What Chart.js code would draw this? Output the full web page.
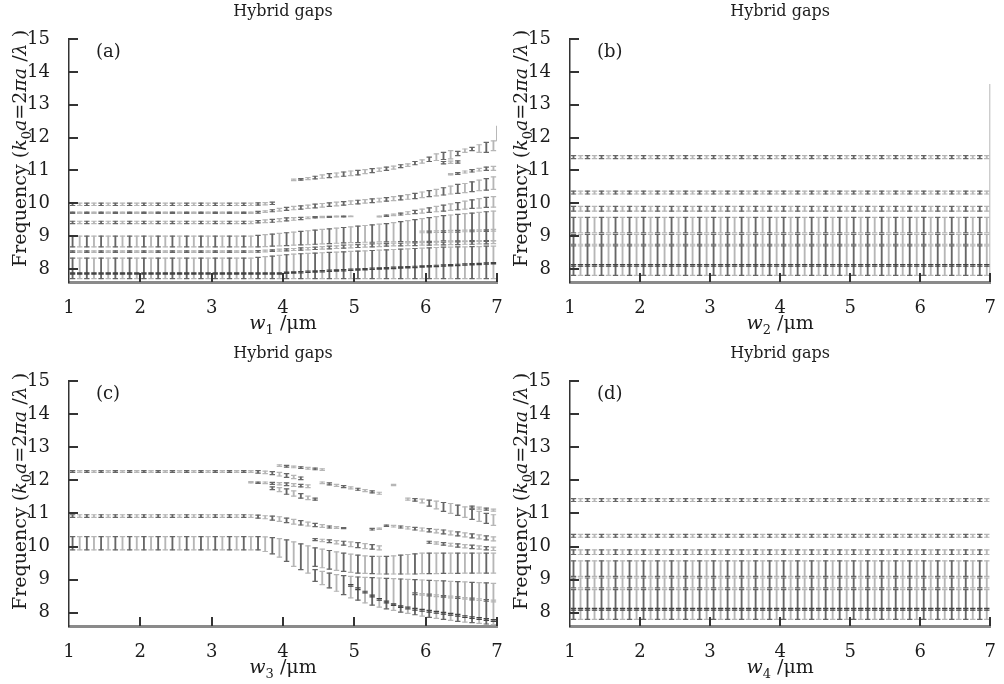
<!DOCTYPE html>
<html>
<head>
<meta charset="utf-8">
<script src="https://cdn.jsdelivr.net/npm/chart.js@4.4.1/dist/chart.umd.min.js"></script>
<style>
  body { margin: 0; background: #fff; }
  #wrap { position: relative; width: 1004px; height: 684px; overflow: hidden; }
  .panel { position: absolute; }
  .panel canvas { display: block; }
</style>
</head>
<body>
<div id="wrap">
  <div class="panel" style="left:0;top:0;width:540px;height:342px"><canvas id="pa"></canvas></div>
  <div class="panel" style="left:501px;top:0;width:503px;height:342px"><canvas id="pb"></canvas></div>
  <div class="panel" style="left:0;top:342px;width:540px;height:342px"><canvas id="pc"></canvas></div>
  <div class="panel" style="left:501px;top:342px;width:503px;height:342px"><canvas id="pd"></canvas></div>
</div>
<script>
(function () {
  'use strict';

  // --- shared axes ---
  const xs = [1.05,1.15,1.25,1.35,1.45,1.55,1.65,1.75,1.85,1.95,2.05,2.15,2.25,2.35,2.45,2.55,2.65,2.75,2.85,2.95,
              3.05,3.15,3.25,3.35,3.45,3.55,3.65,3.75,3.85,3.95,4.05,4.15,4.25,4.35,4.45,4.55,4.65,4.75,4.85,4.95,
              5.05,5.15,5.25,5.35,5.45,5.55,5.65,5.75,5.85,5.95,6.05,6.15,6.25,6.35,6.45,6.55,6.65,6.75,6.85,6.95];
  const xTicks = [1, 2, 3, 4, 5, 6, 7];
  const yTicks = [8, 9, 10, 11, 12, 13, 14, 15];

  // --- panel (a): gaps vs w1, each band starts at xs[start] ---
  const A1 = { start: 0,
    lo: [9.93,9.93,9.93,9.93,9.93,9.93,9.93,9.93,9.93,9.93,9.93,9.93,9.93,9.93,9.93,9.93,9.93,9.93,9.93,9.93,9.93,9.93,9.93,9.93,9.93,9.93,9.94,9.95,9.96],
    hi: [10.0,10.0,10.0,10.0,10.0,10.0,10.0,10.0,10.0,10.0,10.0,10.0,10.0,10.0,10.0,10.0,10.0,10.0,10.0,10.0,10.0,10.0,10.0,10.0,10.0,10.0,10.01,10.02,10.03] };
  const A2 = { start: 31,
    lo: [10.69,10.7,10.72,10.74,10.76,10.78,10.8,10.82,10.84,10.86,10.9,10.93,10.97,11.0,11.04,11.08,11.12,11.17,11.22,11.27,11.3,11.33,11.35,11.45,11.55,11.6,11.55,11.55,11.6],
    hi: [10.73,10.75,10.78,10.82,10.86,10.9,10.92,10.95,10.98,11.0,11.02,11.05,11.07,11.1,11.13,11.17,11.2,11.27,11.32,11.4,11.5,11.55,11.6,11.58,11.65,11.7,11.78,11.85,11.9] };
  const A2b = { start: 52, lo: [11.2,11.21,11.22], hi: [11.27,11.28,11.29] };
  const A3 = { start: 0,
    lo: [9.69,9.69,9.69,9.69,9.69,9.69,9.69,9.69,9.69,9.69,9.69,9.69,9.69,9.69,9.69,9.69,9.69,9.69,9.69,9.69,9.69,9.69,9.69,9.69,9.69,9.69,
         9.7,9.72,9.74,9.76,9.78,9.8,9.82,9.84,9.86,9.88,9.9,9.92,9.94,9.96,9.98,10.0,10.02,10.04,10.06,10.08,10.1,10.12,10.14,10.17,10.2,10.22,10.25,10.28,10.3,10.32,10.35,10.38,10.4,10.42],
    hi: [9.73,9.73,9.73,9.73,9.73,9.73,9.73,9.73,9.73,9.73,9.73,9.73,9.73,9.73,9.73,9.73,9.73,9.73,9.73,9.73,9.73,9.73,9.73,9.73,9.73,9.73,
         9.75,9.77,9.8,9.84,9.87,9.9,9.92,9.94,9.97,9.99,10.01,10.03,10.05,10.07,10.09,10.11,10.13,10.15,10.17,10.2,10.22,10.26,10.3,10.34,10.38,10.42,10.47,10.52,10.57,10.6,10.65,10.7,10.75,10.8] };
  const A3b = { start: 53, lo: [10.86,10.88,10.92,10.95,10.98,11.0,11.0], hi: [10.9,10.93,10.98,11.02,11.06,11.1,11.12] };
  const A4 = { start: 0,
    lo: [9.38,9.38,9.38,9.38,9.38,9.38,9.38,9.38,9.38,9.38,9.38,9.38,9.38,9.38,9.38,9.38,9.38,9.38,9.38,9.38,9.38,9.38,9.38,9.38,9.38,9.38,
         9.4,9.41,9.42,9.44,9.46,9.48,9.5,9.53,9.55,9.56,9.57,9.58,9.58,9.59],
    hi: [9.45,9.45,9.45,9.45,9.45,9.45,9.45,9.45,9.45,9.45,9.45,9.45,9.45,9.45,9.45,9.45,9.45,9.45,9.45,9.45,9.45,9.45,9.45,9.45,9.45,9.45,
         9.47,9.49,9.51,9.53,9.55,9.56,9.57,9.58,9.59,9.6,9.6,9.61,9.61,9.61] };
  const A5 = { start: 43,
    lo: [9.58,9.6,9.62,9.64,9.66,9.68,9.7,9.72,9.74,9.76,9.78,9.8,9.82,9.84,9.85,9.87,9.88],
    hi: [9.61,9.64,9.67,9.7,9.74,9.78,9.82,9.86,9.9,9.94,9.98,10.02,10.06,10.1,10.14,10.18,10.2] };
  const A6 = { start: 0,
    lo: [8.67,8.67,8.67,8.67,8.67,8.67,8.67,8.67,8.67,8.67,8.67,8.67,8.67,8.67,8.67,8.67,8.67,8.67,8.67,8.67,8.67,8.67,8.67,8.67,8.67,8.67,
         8.67,8.68,8.69,8.7,8.71,8.72,8.73,8.74,8.75,8.76,8.77,8.78,8.79,8.8,8.8,8.81,8.81,8.82,8.82,8.82,8.83,8.83,8.83,8.84,8.84,8.84,8.85,8.85,8.85,8.85,8.86,8.86,8.86,8.86],
    hi: [9.0,9.0,9.0,9.0,9.0,9.0,9.0,9.0,9.0,9.0,9.0,9.0,9.0,9.0,9.0,9.0,9.0,9.0,9.0,9.0,9.0,9.0,9.0,9.0,9.0,9.0,
         9.02,9.04,9.06,9.08,9.1,9.12,9.14,9.16,9.18,9.2,9.22,9.24,9.26,9.28,9.3,9.32,9.34,9.36,9.38,9.41,9.44,9.47,9.5,9.53,9.56,9.59,9.62,9.64,9.66,9.68,9.7,9.72,9.74,9.76] };
  const A7 = { start: 0,
    lo: [8.5,8.5,8.5,8.5,8.5,8.5,8.5,8.5,8.5,8.5,8.5,8.5,8.5,8.5,8.5,8.5,8.5,8.5,8.5,8.5,8.5,8.5,8.5,8.5,8.5,8.5,
         8.51,8.52,8.53,8.54,8.55,8.56,8.57,8.58,8.59,8.6,8.61,8.62,8.63,8.64,8.65,8.66,8.67,8.68,8.69,8.7,8.7,8.71,8.71,8.72,8.72,8.73,8.73,8.74,8.74,8.75,8.75,8.76,8.76,8.77],
    hi: [8.55,8.55,8.55,8.55,8.55,8.55,8.55,8.55,8.55,8.55,8.55,8.55,8.55,8.55,8.55,8.55,8.55,8.55,8.55,8.55,8.55,8.55,8.55,8.55,8.55,8.55,
         8.56,8.57,8.58,8.6,8.61,8.62,8.64,8.65,8.66,8.68,8.69,8.7,8.72,8.73,8.74,8.75,8.76,8.77,8.77,8.78,8.78,8.79,8.79,8.8,8.8,8.81,8.81,8.82,8.82,8.83,8.83,8.84,8.84,8.85] };
  const A8 = { start: 0,
    lo: [7.7,7.7,7.7,7.7,7.7,7.7,7.7,7.7,7.7,7.7,7.7,7.7,7.7,7.7,7.7,7.7,7.7,7.7,7.7,7.7,7.7,7.7,7.7,7.7,7.7,7.7,7.7,7.7,7.7,7.7,
         7.7,7.7,7.7,7.7,7.7,7.7,7.7,7.7,7.7,7.7,7.7,7.7,7.7,7.7,7.7,7.7,7.7,7.7,7.7,7.7,7.7,7.7,7.7,7.7,7.7,7.7,7.7,7.7,7.7,7.7],
    hi: [8.33,8.33,8.33,8.33,8.33,8.33,8.33,8.33,8.33,8.33,8.33,8.33,8.33,8.33,8.33,8.33,8.33,8.33,8.33,8.33,8.33,8.33,8.33,8.33,8.33,8.33,
         8.35,8.37,8.39,8.41,8.43,8.45,8.46,8.47,8.48,8.49,8.5,8.51,8.52,8.53,8.54,8.55,8.56,8.57,8.58,8.59,8.6,8.61,8.62,8.63,8.64,8.65,8.66,8.66,8.67,8.67,8.68,8.68,8.69,8.69] };
  const A9dark = { start: 0,
    lo: [7.84,7.84,7.84,7.84,7.84,7.84,7.84,7.84,7.84,7.84,7.84,7.84,7.84,7.84,7.84,7.84,7.84,7.84,7.84,7.84,7.84,7.84,7.84,7.84,7.84,7.84,7.84,7.84,7.84,7.84,
         7.86,7.87,7.88,7.89,7.9,7.91,7.92,7.93,7.94,7.95,7.96,7.97,7.98,7.99,8.0,8.01,8.02,8.03,8.04,8.05,8.06,8.07,8.08,8.09,8.1,8.11,8.12,8.13,8.14,8.15],
    hi: [7.88,7.88,7.88,7.88,7.88,7.88,7.88,7.88,7.88,7.88,7.88,7.88,7.88,7.88,7.88,7.88,7.88,7.88,7.88,7.88,7.88,7.88,7.88,7.88,7.88,7.88,7.88,7.88,7.88,7.88,
         7.9,7.91,7.92,7.93,7.94,7.95,7.96,7.97,7.98,7.99,8.0,8.01,8.02,8.03,8.04,8.05,8.06,8.07,8.08,8.09,8.1,8.11,8.12,8.13,8.14,8.15,8.16,8.17,8.18,8.19] };
  const A10 = { start: 49,
    lo: [9.1,9.1,9.11,9.11,9.12,9.12,9.13,9.13,9.14,9.14,9.15],
    hi: [9.15,9.15,9.16,9.16,9.17,9.17,9.18,9.18,9.19,9.19,9.2] };
  const edgeA = [7.0, 11.9, 12.35];

  // --- panels (b) and (d): gaps do not change with w2 / w4 ---
  const gapsBD = [[11.36, 11.45], [10.28, 10.37], [9.76, 9.9], [9.1, 9.57], [8.75, 9.05], [7.8, 8.7]];
  const darkBD = [[8.08, 8.13]];
  const edgeB = [7.0, 7.75, 13.62];

  // --- panel (c): gaps vs w3 ---
  const C1 = { start: 0,
    lo: [12.24,12.24,12.24,12.24,12.24,12.24,12.24,12.24,12.24,12.24,12.24,12.24,12.24,12.24,12.24,12.24,12.24,12.24,12.24,12.24,12.24,12.24,12.24,12.24,12.24,12.24,
         12.22,12.2,12.17,12.13,12.09,12.05,12.02],
    hi: [12.29,12.29,12.29,12.29,12.29,12.29,12.29,12.29,12.29,12.29,12.29,12.29,12.29,12.29,12.29,12.29,12.29,12.29,12.29,12.29,12.29,12.29,12.29,12.29,12.29,12.29,
         12.29,12.28,12.26,12.24,12.2,12.15,12.1] };
  const C1u = { start: 29, lo: [12.42,12.4,12.38,12.36,12.34,12.32,12.3], hi: [12.47,12.45,12.43,12.41,12.39,12.37,12.35] };
  const C1b = { start: 25, lo: [11.92,11.91,11.9,11.88,11.86,11.84,11.82,11.8,11.78], hi: [11.96,11.95,11.95,11.94,11.93,11.92,11.9,11.88,11.86] };
  const C1c = { start: 28, lo: [11.72,11.66,11.58,11.52,11.46,11.42,11.4], hi: [11.8,11.78,11.74,11.68,11.6,11.52,11.46] };
  const C1d = { start: 35, lo: [11.9,11.86,11.82,11.78,11.74,11.7,11.66,11.62,11.58], hi: [11.95,11.92,11.88,11.84,11.8,11.76,11.72,11.68,11.64] };
  const C1e = { start: 45, lo: [11.84], hi: [11.88] };
  const C1f = { start: 47,
    lo: [11.4,11.37,11.32,11.22,11.14,11.06,11.0,10.94,10.88,10.82,10.76,10.7,10.64],
    hi: [11.46,11.45,11.43,11.4,11.37,11.33,11.3,11.25,11.2,11.12,11.06,11.0,10.96] };
  const C1g = { start: 56, lo: [11.16,11.13,11.1,11.07], hi: [11.22,11.19,11.16,11.13] };
  const C2 = { start: 0,
    lo: [10.88,10.88,10.88,10.88,10.88,10.88,10.88,10.88,10.88,10.88,10.88,10.88,10.88,10.88,10.88,10.88,10.88,10.88,10.88,10.88,10.88,10.88,10.88,10.88,10.88,10.88,
         10.86,10.84,10.8,10.76,10.72,10.68,10.65,10.62,10.6,10.58,10.56,10.55,10.54],
    hi: [10.96,10.96,10.96,10.96,10.96,10.96,10.96,10.96,10.96,10.96,10.96,10.96,10.96,10.96,10.96,10.96,10.96,10.96,10.96,10.96,10.96,10.96,10.96,10.96,10.96,10.96,
         10.95,10.93,10.92,10.9,10.86,10.82,10.78,10.74,10.7,10.66,10.62,10.6,10.57] };
  const C2b = { start: 42, lo: [10.5,10.52], hi: [10.55,10.56] };
  const C2c = { start: 44,
    lo: [10.61,10.59,10.56,10.53,10.5,10.47,10.44,10.41,10.38,10.35,10.32,10.29,10.26,10.23,10.2,10.17],
    hi: [10.65,10.64,10.62,10.6,10.58,10.56,10.54,10.52,10.5,10.47,10.44,10.41,10.38,10.35,10.32,10.29] };
  const C2d = { start: 50,
    lo: [10.1,10.07,10.04,10.01,9.98,9.96,9.94,9.92,9.9,9.88],
    hi: [10.16,10.14,10.12,10.1,10.08,10.06,10.04,10.02,10.0,9.98] };
  const C7 = { start: 34,
    lo: [10.18,10.15,10.12,10.08,10.04,10.0,9.97,9.94,9.92,9.9],
    hi: [10.24,10.22,10.2,10.18,10.16,10.14,10.12,10.09,10.06,10.02] };
  const C3 = { start: 0,
    lo: [9.9,9.9,9.9,9.9,9.9,9.9,9.9,9.9,9.9,9.9,9.9,9.9,9.9,9.9,9.9,9.9,9.9,9.9,9.9,9.9,9.9,9.9,9.9,9.9,9.9,9.9,9.9,
         9.85,9.78,9.68,9.55,9.4,9.3,9.2],
    hi: [10.3,10.3,10.3,10.3,10.3,10.3,10.3,10.3,10.3,10.3,10.3,10.3,10.3,10.3,10.3,10.3,10.3,10.3,10.3,10.3,10.3,10.3,10.3,10.3,10.3,10.3,10.3,
         10.29,10.27,10.24,10.2,10.14,10.08,10.02] };
  const C3a = { start: 34,
    lo: [9.4,9.36,9.32,9.28,9.25,9.22,9.2,9.19,9.18,9.17,9.17,9.17,9.17,9.17,9.17,9.18,9.18,9.18,9.19,9.19,9.19,9.2,9.2,9.2,9.2,9.2],
    hi: [9.96,9.92,9.88,9.84,9.8,9.77,9.74,9.72,9.7,9.7,9.7,9.72,9.74,9.76,9.78,9.8,9.8,9.8,9.8,9.8,9.8,9.8,9.8,9.8,9.8,9.8] };
  const C3b = { start: 34,
    lo: [8.95,8.85,8.75,8.65,8.55,8.45,8.38,8.3,8.23,8.17,8.12,8.07,8.02,7.98,7.94,7.9,7.86,7.83,7.8,7.77,7.74,7.72,7.7,7.68,7.66,7.64],
    hi: [9.3,9.25,9.2,9.15,9.12,9.1,9.08,9.07,9.06,9.05,9.04,9.03,9.02,9.01,9.0,8.99,8.98,8.97,8.96,8.95,8.94,8.93,8.92,8.91,8.9,8.89] };
  const C4dark = { start: 39,
    lo: [8.8,8.7,8.6,8.48,8.38,8.3,8.22,8.16,8.12,8.08,8.05,8.02,7.99,7.96,7.93,7.9,7.86,7.83,7.8,7.77,7.74],
    hi: [8.85,8.75,8.65,8.53,8.43,8.35,8.27,8.21,8.17,8.13,8.1,8.07,8.04,8.01,7.98,7.95,7.91,7.88,7.85,7.82,7.79] };
  const C5 = { start: 48,
    lo: [8.55,8.53,8.51,8.49,8.47,8.45,8.43,8.41,8.39,8.37,8.35,8.33],
    hi: [8.6,8.58,8.56,8.54,8.52,8.5,8.48,8.46,8.44,8.42,8.4,8.38] };

  const SERIF = '"DejaVu Serif", serif';
  const INK = '#1c1c1c';

  function bandData(b) {
    return b.lo.map((l, i) => ({ x: xs[b.start + i], y: [l, b.hi[i]], k: b.start + i }))
      .filter(p => p.x !== undefined);
  }
  function flatData(gap) {
    return xs.map((x, k) => ({ x, y: gap, k }));
  }
  function edgeData(e) {
    return [{ x: e[0], y: [e[1], e[2]], k: 0 }];
  }

  function stemColor(kind, k) {
    if (kind === 'dark') return '#444';
    if (kind === 'edge') return '#b3b3b3';
    return k % 2 ? '#b6b6b6' : '#666';
  }

  function makeSet(data, kind) {
    return {
      data, kind,
      barThickness: 1.2,
      borderWidth: 0,
      grouped: false,
      backgroundColor: c => stemColor(kind, c.raw ? c.raw.k : 0)
    };
  }

  // caps at both ends of every gap bar
  const capPlugin = {
    id: 'caps',
    afterDatasetsDraw(chart) {
      const ctx = chart.ctx;
      ctx.save();
      ctx.lineWidth = 1.2;
      chart.data.datasets.forEach((ds, i) => {
        if (ds.kind === 'edge') return;
        chart.getDatasetMeta(i).data.forEach((bar, j) => {
          const p = bar.getProps(['x', 'y', 'base'], true);
          ctx.strokeStyle = stemColor(ds.kind, ds.data[j].k);
          ctx.beginPath();
          ctx.moveTo(p.x - 2.7, p.y); ctx.lineTo(p.x + 2.7, p.y);
          ctx.moveTo(p.x - 2.7, p.base); ctx.lineTo(p.x + 2.7, p.base);
          ctx.stroke();
        });
      });
      ctx.restore();
    }
  };

  function richText(ctx, parts, x, y, size) {
    const fontOf = p => (p[1] ? 'italic ' : '') + (p[2] ? Math.round(size * 0.68) : size) + 'px ' + SERIF;
    let w = 0;
    parts.forEach(p => { ctx.font = fontOf(p); w += ctx.measureText(p[0]).width; });
    let cx = x - w / 2;
    ctx.textAlign = 'left';
    ctx.textBaseline = 'alphabetic';
    parts.forEach(p => {
      ctx.font = fontOf(p);
      ctx.fillText(p[0], cx, y + (p[2] ? size * 0.28 : 0));
      cx += ctx.measureText(p[0]).width;
    });
  }

  // inward ticks, titles, panel letter
  const framePlugin = {
    id: 'frame',
    afterDraw(chart) {
      const { ctx, chartArea: a, scales: { x, y } } = chart;
      const o = chart.options.plugins.frame;
      ctx.save();
      ctx.strokeStyle = '#333';
      ctx.lineWidth = 2;
      ctx.beginPath();
      yTicks.forEach(v => { const py = Math.round(y.getPixelForValue(v)); ctx.moveTo(a.left, py); ctx.lineTo(a.left + 9, py); });
      xTicks.slice(1).forEach(v => { const px = Math.round(x.getPixelForValue(v)); ctx.moveTo(px, a.bottom); ctx.lineTo(px, a.bottom - 9); });
      ctx.stroke();

      ctx.fillStyle = INK;
      const mid = (a.left + a.right) / 2;
      ctx.font = '16px ' + SERIF;
      ctx.textAlign = 'center';
      ctx.textBaseline = 'middle';
      ctx.fillText('Hybrid gaps', mid, a.top - 27);

      ctx.font = '18px ' + SERIF;
      ctx.textAlign = 'left';
      ctx.fillText(o.letter, a.left + 27, a.top + 13);

      richText(ctx, [['w', true, false], [o.sub, false, true], [' /\u03bcm', false, false]], mid, a.bottom + 47, 19);

      ctx.translate(19, (a.top + a.bottom) / 2 - 12);
      ctx.rotate(-Math.PI / 2);
      richText(ctx, [
        ['Frequency (', false, false], ['k', true, false], ['0', false, true], ['a', true, false],
        ['=2', false, false], ['\u03c0a', true, false], [' /', false, false], ['\u03bb', true, false], [' )', false, false]
      ], 0, 7, 19);
      ctx.restore();
    }
  };

  function makeChart(id, datasets, letter, sub, padRight, xAxisH) {
    const tickFont = { family: SERIF, size: 18 };
    new Chart(document.getElementById(id), {
      type: 'bar',
      data: { datasets },
      options: {
        responsive: true,
        maintainAspectRatio: false,
        animation: false,
        layout: { padding: { top: 39, right: padRight, bottom: 0, left: 0 } },
        plugins: { legend: { display: false }, tooltip: { enabled: false }, frame: { letter, sub } },
        scales: {
          x: {
            type: 'linear', min: 1, max: 7, offset: false,
            grid: { display: false },
            border: { display: true, color: '#8a8a8a', width: 3 },
            ticks: { font: tickFont, color: INK, padding: 8, maxRotation: 0, autoSkip: false },
            afterBuildTicks: s => { s.ticks = xTicks.map(v => ({ value: v })); },
            afterFit: s => { s.height = xAxisH; }
          },
          y: {
            type: 'linear', min: 7.6, max: 15,
            grid: { display: false },
            border: { display: true, color: '#333', width: 1.5 },
            ticks: { font: tickFont, color: INK, padding: 11, autoSkip: false },
            afterBuildTicks: s => { s.ticks = yTicks.map(v => ({ value: v })); },
            afterFit: s => { s.width = 69; }
          }
        }
      },
      plugins: [capPlugin, framePlugin]
    });
  }

  const setsA = [A1, A2, A2b, A3, A3b, A4, A5, A6, A7, A8, A10].map(b => makeSet(bandData(b), 'gap'))
    .concat([makeSet(bandData(A9dark), 'dark'), makeSet(edgeData(edgeA), 'edge')]);

  const setsB = gapsBD.map(g => makeSet(flatData(g), 'gap'))
    .concat(darkBD.map(g => makeSet(flatData(g), 'dark')), [makeSet(edgeData(edgeB), 'edge')]);

  const setsC = [C1, C1u, C1b, C1c, C1d, C1e, C1f, C1g, C2, C2b, C2c, C2d, C7, C3, C3a, C3b, C5].map(b => makeSet(bandData(b), 'gap'))
    .concat([makeSet(bandData(C4dark), 'dark')]);

  const setsD = gapsBD.map(g => makeSet(flatData(g), 'gap'))
    .concat(darkBD.map(g => makeSet(flatData(g), 'dark')));

  makeChart('pa', setsA, '(a)', '1', 43, 60);
  makeChart('pb', setsB, '(b)', '2', 7, 60);
  makeChart('pc', setsC, '(c)', '3', 43, 58);
  makeChart('pd', setsD, '(d)', '4', 7, 58);
})();
</script>
</body>
</html>
